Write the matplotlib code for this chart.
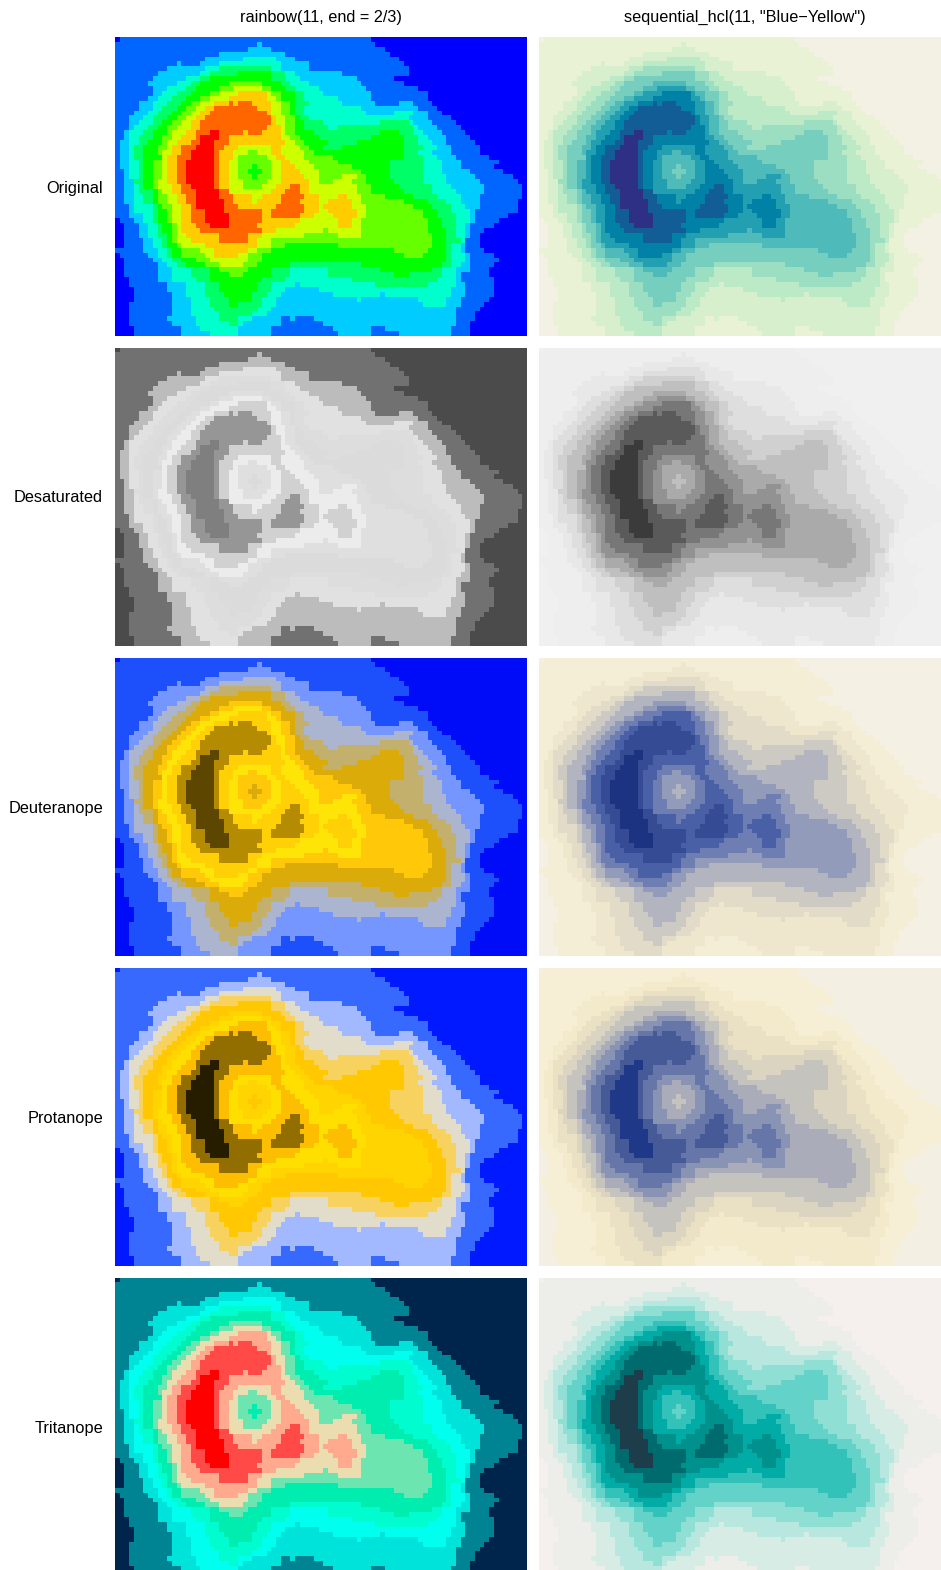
import numpy as np
import matplotlib
matplotlib.use("Agg")
import matplotlib.pyplot as plt
from matplotlib.colors import ListedColormap

plt.rcParams['font.family'] = ['Liberation Sans', 'DejaVu Sans']

COLUMN_TITLES = ['rainbow(11, end = 2/3)', 'sequential_hcl(11, "Blue\u2212Yellow")']
ROW_LABELS = ['Original', 'Desaturated', 'Deuteranope', 'Protanope', 'Tritanope']

RAINBOW_LOW_TO_HIGH = ['#0000FF', '#0066FF', '#00CCFF', '#00FFCC', '#00FF66', '#00FF00',
                       '#66FF00', '#CCFF00', '#FFCC00', '#FF6600', '#FF0000']

# Elevation class (0-10) of every cell, top to bottom,
# as level:count runs over the 87 cells.
LEVEL_RUNS = [
"0:1 1:53 0:33",
"1:30 2:1 1:24 0:32",
"1:28 2:5 1:24 0:30",
"1:22 2:14 1:22 0:29",
"1:19 2:8 3:7 2:4 1:22 0:27",
"1:13 2:1 1:4 2:4 3:13 2:6 1:20 0:26",
"1:11 2:8 3:3 4:11 3:2 2:6 1:21 0:25",
"1:9 2:9 3:2 4:6 5:7 4:3 3:2 2:10 1:14 0:25",
"1:8 2:7 3:3 4:2 5:13 4:3 3:3 2:12 1:8 0:28",
"1:7 2:6 3:3 4:2 5:6 6:7 5:4 4:2 3:4 2:11 1:9 0:26",
"1:8 2:3 3:4 4:2 5:5 6:3 7:6 6:2 5:3 4:2 3:5 2:10 1:11 0:23",
"1:8 2:2 3:3 4:3 5:4 6:2 7:4 8:6 7:1 6:2 5:3 4:2 3:4 2:10 1:12 0:21",
"1:7 2:2 3:3 4:3 5:3 6:2 7:4 8:8 7:2 6:1 5:3 4:2 3:7 2:7 1:12 0:21",
"1:5 2:3 3:3 4:3 5:2 6:2 7:3 8:3 9:1 8:1 9:3 8:4 7:2 6:2 5:1 4:3 3:7 2:7 1:5 2:3 1:4 0:20",
"1:5 2:3 3:2 4:3 5:2 6:2 7:2 8:2 9:9 8:3 7:2 6:2 5:1 4:2 3:12 2:12 1:4 0:19",
"1:4 2:3 3:2 4:3 5:2 6:2 7:2 8:2 9:12 8:1 7:2 6:2 5:1 4:2 3:13 2:6 3:4 2:3 1:3 0:18",
"1:3 2:3 3:2 4:3 5:2 6:2 7:2 8:2 9:14 8:1 7:2 6:2 5:1 4:2 3:21 2:4 1:5 0:16",
"1:3 2:2 3:3 4:2 5:2 6:2 7:2 8:2 9:15 8:1 7:2 6:2 5:2 4:4 3:12 4:6 3:1 2:4 1:5 0:15",
"1:3 2:1 3:3 4:2 5:2 6:2 7:3 8:2 9:14 8:3 7:1 6:2 5:2 4:5 3:2 4:16 3:1 2:4 1:5 0:14",
"1:2 2:1 3:3 4:2 5:3 6:1 7:3 8:2 9:3 10:2 9:5 8:1 9:3 8:4 7:1 6:2 5:4 4:14 5:4 4:3 3:2 2:4 1:5 0:13",
"1:2 2:1 3:2 4:3 5:2 6:2 7:2 8:3 9:1 10:4 9:2 8:11 7:2 6:2 5:4 4:11 5:7 4:3 3:2 2:4 1:5 0:12",
"1:1 2:2 3:2 4:2 5:3 6:1 7:2 8:3 9:2 10:3 9:3 8:12 7:2 6:2 5:5 4:6 5:10 4:3 3:3 2:3 1:6 0:11",
"1:1 2:2 3:1 4:2 5:3 6:2 7:1 8:2 9:3 10:4 9:2 8:3 7:7 8:2 7:4 6:2 5:3 4:4 5:13 4:4 3:3 2:3 1:6 0:10",
"1:1 2:2 3:1 4:2 5:3 6:1 7:2 8:2 9:2 10:5 9:1 8:3 7:3 6:2 7:3 8:2 7:5 6:2 5:19 4:3 3:3 2:4 1:6 0:10",
"1:1 2:2 3:1 4:2 5:4 7:1 8:2 9:3 10:5 9:1 8:3 7:1 6:6 7:2 8:2 7:4 6:6 5:15 4:4 3:3 2:4 1:7 0:8",
"1:1 2:2 3:2 4:1 5:2 6:2 7:1 8:2 9:2 10:6 9:1 8:2 7:2 6:7 7:2 8:2 7:4 6:6 5:11 4:7 3:4 2:4 1:8 0:6",
"1:1 2:2 3:2 4:1 5:2 6:2 7:1 8:2 9:2 10:6 9:1 8:2 7:2 6:3 5:1 6:3 7:2 8:3 7:4 6:8 5:8 4:7 3:4 2:4 1:7 0:7",
"1:2 2:1 3:2 4:1 5:2 6:2 7:1 8:2 9:2 10:6 9:1 8:2 7:2 6:2 5:3 6:2 7:2 8:4 7:4 6:9 5:6 4:7 3:4 2:6 1:7 0:5",
"1:2 2:1 3:2 4:1 5:2 6:2 7:1 8:2 9:2 10:6 9:1 8:2 7:2 6:3 5:1 6:3 7:2 8:5 7:3 6:5 7:3 6:2 5:5 4:7 3:5 2:6 1:8 0:3",
"1:2 2:2 4:2 5:2 6:1 7:2 8:2 9:2 10:6 9:1 8:2 7:3 6:5 7:3 8:6 7:2 6:3 7:4 6:3 5:6 4:6 3:5 2:7 1:8 0:2",
"1:2 2:2 3:1 4:1 5:2 6:1 7:3 8:2 9:2 10:5 9:1 8:2 7:3 6:4 7:3 8:3 9:2 8:2 7:10 6:3 5:6 4:7 3:4 2:7 1:8 0:1",
"1:2 2:2 3:1 4:3 5:1 6:1 7:2 8:2 9:3 10:5 9:2 7:9 8:3 9:3 8:2 7:10 6:3 5:7 4:6 3:5 2:6 1:8 0:1",
"1:2 2:2 3:2 4:2 5:1 6:2 7:2 8:2 9:2 10:5 9:3 8:4 7:2 8:4 9:5 8:3 7:4 8:2 7:3 6:5 5:6 4:5 3:5 2:4 1:9 0:1",
"1:2 2:2 3:2 4:2 5:1 6:2 7:2 8:2 9:2 10:6 9:2 8:4 7:1 8:5 9:4 8:4 7:2 8:5 7:2 6:9 5:5 4:4 3:3 2:4 1:8 0:2",
"1:3 2:1 3:4 4:1 5:1 6:2 7:2 8:2 9:1 10:6 9:3 8:8 9:6 8:3 7:1 8:6 7:3 6:10 5:4 4:4 3:3 2:3 1:8 0:2",
"1:3 2:1 3:4 4:1 5:2 6:1 7:2 8:2 9:3 10:4 9:8 8:2 9:7 8:3 7:2 8:6 7:2 6:12 5:3 4:3 3:4 2:1 1:9 0:2",
"1:3 2:3 3:2 4:1 5:2 6:1 7:2 8:2 9:3 10:5 9:7 8:2 9:6 8:3 7:4 8:5 7:2 6:12 5:3 4:4 3:3 2:1 1:7 0:4",
"0:1 1:3 2:2 3:2 4:1 5:2 6:1 7:2 8:2 9:3 10:5 9:7 8:8 7:8 8:3 7:2 6:14 5:3 4:3 3:3 2:1 1:5 0:6",
"0:2 1:3 2:2 3:2 4:1 5:2 6:1 7:1 8:3 9:3 10:4 9:6 8:8 7:9 8:3 7:2 6:14 5:3 4:3 3:2 2:1 1:5 0:7",
"0:2 1:3 2:2 3:2 4:1 5:2 6:1 7:1 8:4 9:13 8:3 7:10 6:1 7:7 6:14 5:4 4:2 3:2 2:1 1:3 0:9",
"0:2 1:3 2:2 3:2 4:2 5:1 6:1 7:2 8:7 9:6 8:3 7:9 6:7 7:5 6:15 5:3 4:2 3:2 2:1 1:2 0:10",
"0:2 1:4 2:2 3:2 4:1 5:1 6:1 7:3 8:6 9:6 8:2 7:3 6:34 5:3 4:3 3:1 1:3 0:10",
"0:2 1:4 2:2 3:2 4:1 5:2 6:1 7:5 8:11 7:3 6:3 5:11 6:20 5:3 4:1 3:2 2:1 1:3 0:10",
"1:6 2:3 3:2 4:1 5:2 6:4 7:3 8:7 7:2 6:3 5:26 6:7 5:4 4:1 3:2 2:1 1:4 0:9",
"0:1 1:6 2:2 3:2 4:1 5:2 6:5 7:2 8:5 7:2 6:3 5:30 6:4 5:5 4:1 3:3 2:1 1:5 0:7",
"0:2 1:6 2:2 3:2 4:2 5:3 6:3 7:8 6:3 5:39 4:1 3:3 2:1 1:6 0:6",
"0:2 1:7 2:2 3:2 4:2 5:4 6:3 7:5 6:3 5:7 4:15 5:17 4:2 3:2 2:2 1:5 0:7",
"0:2 1:7 2:3 3:4 4:4 5:2 6:6 5:5 4:4 3:8 4:11 5:11 4:2 3:3 2:3 1:4 0:8",
"0:2 1:7 2:3 3:4 4:4 5:4 6:3 5:6 4:4 3:8 4:14 5:3 4:7 3:3 2:1 1:6 0:8",
"0:3 1:6 2:3 3:5 4:3 5:11 4:5 3:14 4:18 3:4 2:1 1:7 0:7",
"0:3 1:8 2:4 3:4 4:3 5:8 4:3 3:5 2:1 3:16 4:11 3:6 2:2 1:6 0:7",
"0:4 1:7 2:4 3:4 4:3 5:8 4:3 3:3 2:7 3:28 2:3 1:6 0:7",
"0:4 1:8 2:3 3:4 4:4 5:6 4:3 3:3 2:11 3:10 2:1 3:14 2:3 1:6 0:7",
"0:4 1:8 2:4 3:4 4:4 5:5 4:2 3:3 2:17 3:1 2:12 3:6 2:3 1:6 0:8",
"0:3 1:9 2:4 3:4 4:4 5:2 4:5 3:3 2:31 3:5 2:3 1:5 0:9",
"0:3 1:9 2:4 3:5 4:9 3:3 2:39 1:5 0:10",
"0:3 1:9 2:4 3:6 4:7 3:3 2:40 1:4 0:11",
"0:3 1:8 2:6 3:5 4:4 3:3 2:6 1:2 2:1 1:4 2:30 1:4 0:11",
"0:3 1:9 2:5 3:7 4:2 3:1 2:8 1:9 2:28 1:3 0:12",
"0:4 1:10 2:4 3:8 2:7 1:13 2:8 1:3 2:14 1:4 0:12",
"0:4 1:10 2:6 3:6 2:7 1:14 2:7 1:6 2:11 1:4 0:12",
]

FIG_W, FIG_H = 941, 1570
PANEL_LEFT = [115, 539]
PANEL_TOP = [37.4, 347.7, 657.8, 968, 1278]
LABEL_BASELINE = [192.5, 502.5, 812.5, 1122.5, 1432.5]
TITLE_BASELINE = 22
PANEL_W, PANEL_H = 412, 298.4


def decode(runs):
    rows = []
    for line in runs:
        row = []
        for part in line.split():
            lev, cnt = part.split(':')
            row += [int(lev)] * int(cnt)
        row = (row + row[-1:] * 87)[:87]
        rows.append(row)
    return np.array(rows)


def lin_to_srgb(x):
    return np.where(x <= 0.0031308, 12.92 * x, 1.055 * np.power(x, 1 / 2.4) - 0.055)


def srgb_to_lin(x):
    return np.where(x <= 0.04045, x / 12.92, ((x + 0.055) / 1.055) ** 2.4)


def hcl_to_rgb(L, C, H):
    Xn, Yn, Zn = 95.047, 100.0, 108.883
    U, V = C * np.cos(np.radians(H)), C * np.sin(np.radians(H))
    Y = Yn * (((L + 16) / 116) ** 3 if L > 8 else L / 903.3)
    un = 4 * Xn / (Xn + 15 * Yn + 3 * Zn)
    vn = 9 * Yn / (Xn + 15 * Yn + 3 * Zn)
    u = U / (13 * L) + un
    v = V / (13 * L) + vn
    X = 9.0 * Y * u / (4 * v)
    Z = -X / 3 - 5 * Y + 3 * Y / v
    M = np.array([[3.240479, -1.537150, -0.498535],
                  [-0.969256, 1.875992, 0.041556],
                  [0.055648, -0.204043, 1.057311]])
    lin = M @ (np.array([X, Y, Z]) / 100.0)
    return np.clip(lin_to_srgb(np.clip(lin, 0, 1)), 0, 1)


def blue_yellow():
    out = []
    for k in range(11):
        i = k / 10
        L = 95 - (95 - 25) * i ** 2
        C = 10 - (10 - 60) * i ** 0.7
        H = 80 - (80 - 265) * i
        out.append(hcl_to_rgb(L, C, H))
    return np.array(out)


CVD = {
    'Protanope': np.array([[0.152286, 1.052583, -0.204868],
                           [0.114503, 0.786281, 0.099216],
                           [-0.003882, -0.048116, 1.051998]]),
    'Deuteranope': np.array([[0.367322, 0.860646, -0.227968],
                             [0.280085, 0.672501, 0.047413],
                             [-0.011820, 0.042940, 0.968881]]),
    'Tritanope': np.array([[1.255528, -0.076749, -0.178779],
                           [-0.078411, 0.930809, 0.147602],
                           [0.004733, 0.691367, 0.303900]]),
}


def transform(cols, name):
    if name == 'Original':
        return cols
    if name == 'Desaturated':
        y = srgb_to_lin(cols) @ np.array([0.2126, 0.7152, 0.0722])
        g = lin_to_srgb(y)
        return np.stack([g, g, g], axis=1)
    return np.clip(cols @ CVD[name].T, 0, 1)


levels = decode(LEVEL_RUNS)
base = [np.array([matplotlib.colors.to_rgb(c) for c in RAINBOW_LOW_TO_HIGH]), blue_yellow()]

fig = plt.figure(figsize=(FIG_W / 100, FIG_H / 100), dpi=100)
for r, name in enumerate(ROW_LABELS):
    for c, left in enumerate(PANEL_LEFT):
        ax = fig.add_axes([left / FIG_W, 1 - (PANEL_TOP[r] + PANEL_H) / FIG_H,
                           PANEL_W / FIG_W, PANEL_H / FIG_H])
        ax.imshow(levels, aspect='auto', interpolation='nearest',
                  cmap=ListedColormap(transform(base[c], name)), vmin=-0.5, vmax=10.5)
        ax.axis('off')
    fig.text(103 / FIG_W, 1 - LABEL_BASELINE[r] / FIG_H, name,
             ha='right', va='baseline', fontsize=11.75)
for c, left in enumerate(PANEL_LEFT):
    fig.text((left + 205.5 + (0.5 if c == 0 else 0)) / FIG_W, 1 - TITLE_BASELINE / FIG_H, COLUMN_TITLES[c],
             ha='center', va='baseline', fontsize=11.7)

fig.savefig('out.png', dpi=100)
